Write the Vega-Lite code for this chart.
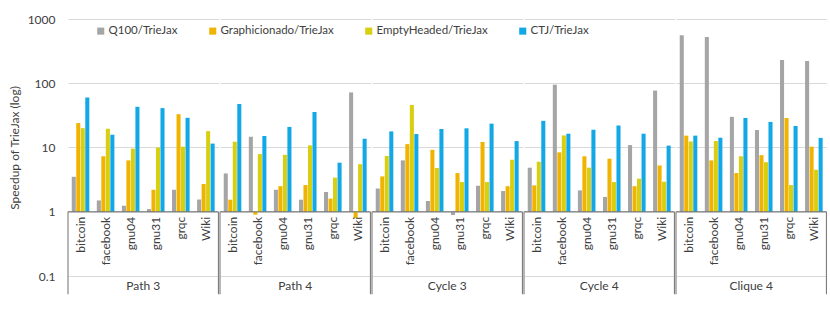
{
  "$schema": "https://vega.github.io/schema/vega-lite/v6.json",
  "background": "white",
  "padding": {"left": 8, "top": 13, "right": 6, "bottom": 5},
  "config": {
    "font": "Lato",
    "view": {"stroke": null},
    "legend": {"labelFont": "Lato"}
  },
  "data": {
    "values": [
      {"group": "Path 3", "dataset": "bitcoin", "series": "Q100/TrieJax", "value": 3.5},
      {"group": "Path 3", "dataset": "bitcoin", "series": "Graphicionado/TrieJax", "value": 24},
      {"group": "Path 3", "dataset": "bitcoin", "series": "EmptyHeaded/TrieJax", "value": 20},
      {"group": "Path 3", "dataset": "bitcoin", "series": "CTJ/TrieJax", "value": 60},
      {"group": "Path 3", "dataset": "facebook", "series": "Q100/TrieJax", "value": 1.5},
      {"group": "Path 3", "dataset": "facebook", "series": "Graphicionado/TrieJax", "value": 7.3},
      {"group": "Path 3", "dataset": "facebook", "series": "EmptyHeaded/TrieJax", "value": 19.6},
      {"group": "Path 3", "dataset": "facebook", "series": "CTJ/TrieJax", "value": 15.8},
      {"group": "Path 3", "dataset": "gnu04", "series": "Q100/TrieJax", "value": 1.24},
      {"group": "Path 3", "dataset": "gnu04", "series": "Graphicionado/TrieJax", "value": 6.3},
      {"group": "Path 3", "dataset": "gnu04", "series": "EmptyHeaded/TrieJax", "value": 9.6},
      {"group": "Path 3", "dataset": "gnu04", "series": "CTJ/TrieJax", "value": 43},
      {"group": "Path 3", "dataset": "gnu31", "series": "Q100/TrieJax", "value": 1.1},
      {"group": "Path 3", "dataset": "gnu31", "series": "Graphicionado/TrieJax", "value": 2.2},
      {"group": "Path 3", "dataset": "gnu31", "series": "EmptyHeaded/TrieJax", "value": 10},
      {"group": "Path 3", "dataset": "gnu31", "series": "CTJ/TrieJax", "value": 41},
      {"group": "Path 3", "dataset": "grqc", "series": "Q100/TrieJax", "value": 2.2},
      {"group": "Path 3", "dataset": "grqc", "series": "Graphicionado/TrieJax", "value": 33},
      {"group": "Path 3", "dataset": "grqc", "series": "EmptyHeaded/TrieJax", "value": 10.3},
      {"group": "Path 3", "dataset": "grqc", "series": "CTJ/TrieJax", "value": 29},
      {"group": "Path 3", "dataset": "Wiki", "series": "Q100/TrieJax", "value": 1.55},
      {"group": "Path 3", "dataset": "Wiki", "series": "Graphicionado/TrieJax", "value": 2.7},
      {"group": "Path 3", "dataset": "Wiki", "series": "EmptyHeaded/TrieJax", "value": 18},
      {"group": "Path 3", "dataset": "Wiki", "series": "CTJ/TrieJax", "value": 11.5},

      {"group": "Path 4", "dataset": "bitcoin", "series": "Q100/TrieJax", "value": 3.95},
      {"group": "Path 4", "dataset": "bitcoin", "series": "Graphicionado/TrieJax", "value": 1.54},
      {"group": "Path 4", "dataset": "bitcoin", "series": "EmptyHeaded/TrieJax", "value": 12.3},
      {"group": "Path 4", "dataset": "bitcoin", "series": "CTJ/TrieJax", "value": 47.6},
      {"group": "Path 4", "dataset": "facebook", "series": "Q100/TrieJax", "value": 14.7},
      {"group": "Path 4", "dataset": "facebook", "series": "Graphicionado/TrieJax", "value": 0.9},
      {"group": "Path 4", "dataset": "facebook", "series": "EmptyHeaded/TrieJax", "value": 7.9},
      {"group": "Path 4", "dataset": "facebook", "series": "CTJ/TrieJax", "value": 15.1},
      {"group": "Path 4", "dataset": "gnu04", "series": "Q100/TrieJax", "value": 2.2},
      {"group": "Path 4", "dataset": "gnu04", "series": "Graphicionado/TrieJax", "value": 2.5},
      {"group": "Path 4", "dataset": "gnu04", "series": "EmptyHeaded/TrieJax", "value": 7.7},
      {"group": "Path 4", "dataset": "gnu04", "series": "CTJ/TrieJax", "value": 20.9},
      {"group": "Path 4", "dataset": "gnu31", "series": "Q100/TrieJax", "value": 1.54},
      {"group": "Path 4", "dataset": "gnu31", "series": "Graphicionado/TrieJax", "value": 2.6},
      {"group": "Path 4", "dataset": "gnu31", "series": "EmptyHeaded/TrieJax", "value": 10.8},
      {"group": "Path 4", "dataset": "gnu31", "series": "CTJ/TrieJax", "value": 35.7},
      {"group": "Path 4", "dataset": "grqc", "series": "Q100/TrieJax", "value": 2.03},
      {"group": "Path 4", "dataset": "grqc", "series": "Graphicionado/TrieJax", "value": 1.6},
      {"group": "Path 4", "dataset": "grqc", "series": "EmptyHeaded/TrieJax", "value": 3.4},
      {"group": "Path 4", "dataset": "grqc", "series": "CTJ/TrieJax", "value": 5.8},
      {"group": "Path 4", "dataset": "Wiki", "series": "Q100/TrieJax", "value": 72},
      {"group": "Path 4", "dataset": "Wiki", "series": "Graphicionado/TrieJax", "value": 0.8},
      {"group": "Path 4", "dataset": "Wiki", "series": "EmptyHeaded/TrieJax", "value": 5.5},
      {"group": "Path 4", "dataset": "Wiki", "series": "CTJ/TrieJax", "value": 13.7},

      {"group": "Cycle 3", "dataset": "bitcoin", "series": "Q100/TrieJax", "value": 2.3},
      {"group": "Cycle 3", "dataset": "bitcoin", "series": "Graphicionado/TrieJax", "value": 3.55},
      {"group": "Cycle 3", "dataset": "bitcoin", "series": "EmptyHeaded/TrieJax", "value": 7.4},
      {"group": "Cycle 3", "dataset": "bitcoin", "series": "CTJ/TrieJax", "value": 17.8},
      {"group": "Cycle 3", "dataset": "facebook", "series": "Q100/TrieJax", "value": 6.3},
      {"group": "Cycle 3", "dataset": "facebook", "series": "Graphicionado/TrieJax", "value": 11.3},
      {"group": "Cycle 3", "dataset": "facebook", "series": "EmptyHeaded/TrieJax", "value": 46},
      {"group": "Cycle 3", "dataset": "facebook", "series": "CTJ/TrieJax", "value": 16.2},
      {"group": "Cycle 3", "dataset": "gnu04", "series": "Q100/TrieJax", "value": 1.47},
      {"group": "Cycle 3", "dataset": "gnu04", "series": "Graphicionado/TrieJax", "value": 9.2},
      {"group": "Cycle 3", "dataset": "gnu04", "series": "EmptyHeaded/TrieJax", "value": 4.8},
      {"group": "Cycle 3", "dataset": "gnu04", "series": "CTJ/TrieJax", "value": 19.4},
      {"group": "Cycle 3", "dataset": "gnu31", "series": "Q100/TrieJax", "value": 0.89},
      {"group": "Cycle 3", "dataset": "gnu31", "series": "Graphicionado/TrieJax", "value": 4.0},
      {"group": "Cycle 3", "dataset": "gnu31", "series": "EmptyHeaded/TrieJax", "value": 2.9},
      {"group": "Cycle 3", "dataset": "gnu31", "series": "CTJ/TrieJax", "value": 19.9},
      {"group": "Cycle 3", "dataset": "grqc", "series": "Q100/TrieJax", "value": 2.54},
      {"group": "Cycle 3", "dataset": "grqc", "series": "Graphicionado/TrieJax", "value": 12.2},
      {"group": "Cycle 3", "dataset": "grqc", "series": "EmptyHeaded/TrieJax", "value": 2.9},
      {"group": "Cycle 3", "dataset": "grqc", "series": "CTJ/TrieJax", "value": 23.5},
      {"group": "Cycle 3", "dataset": "Wiki", "series": "Q100/TrieJax", "value": 2.1},
      {"group": "Cycle 3", "dataset": "Wiki", "series": "Graphicionado/TrieJax", "value": 2.5},
      {"group": "Cycle 3", "dataset": "Wiki", "series": "EmptyHeaded/TrieJax", "value": 6.45},
      {"group": "Cycle 3", "dataset": "Wiki", "series": "CTJ/TrieJax", "value": 12.6},

      {"group": "Cycle 4", "dataset": "bitcoin", "series": "Q100/TrieJax", "value": 4.85},
      {"group": "Cycle 4", "dataset": "bitcoin", "series": "Graphicionado/TrieJax", "value": 2.57},
      {"group": "Cycle 4", "dataset": "bitcoin", "series": "EmptyHeaded/TrieJax", "value": 6.0},
      {"group": "Cycle 4", "dataset": "bitcoin", "series": "CTJ/TrieJax", "value": 26},
      {"group": "Cycle 4", "dataset": "facebook", "series": "Q100/TrieJax", "value": 95},
      {"group": "Cycle 4", "dataset": "facebook", "series": "Graphicionado/TrieJax", "value": 8.4},
      {"group": "Cycle 4", "dataset": "facebook", "series": "EmptyHeaded/TrieJax", "value": 15.4},
      {"group": "Cycle 4", "dataset": "facebook", "series": "CTJ/TrieJax", "value": 16.4},
      {"group": "Cycle 4", "dataset": "gnu04", "series": "Q100/TrieJax", "value": 2.15},
      {"group": "Cycle 4", "dataset": "gnu04", "series": "Graphicionado/TrieJax", "value": 7.3},
      {"group": "Cycle 4", "dataset": "gnu04", "series": "EmptyHeaded/TrieJax", "value": 4.85},
      {"group": "Cycle 4", "dataset": "gnu04", "series": "CTJ/TrieJax", "value": 18.9},
      {"group": "Cycle 4", "dataset": "gnu31", "series": "Q100/TrieJax", "value": 1.7},
      {"group": "Cycle 4", "dataset": "gnu31", "series": "Graphicionado/TrieJax", "value": 6.7},
      {"group": "Cycle 4", "dataset": "gnu31", "series": "EmptyHeaded/TrieJax", "value": 2.9},
      {"group": "Cycle 4", "dataset": "gnu31", "series": "CTJ/TrieJax", "value": 22},
      {"group": "Cycle 4", "dataset": "grqc", "series": "Q100/TrieJax", "value": 10.9},
      {"group": "Cycle 4", "dataset": "grqc", "series": "Graphicionado/TrieJax", "value": 2.5},
      {"group": "Cycle 4", "dataset": "grqc", "series": "EmptyHeaded/TrieJax", "value": 3.27},
      {"group": "Cycle 4", "dataset": "grqc", "series": "CTJ/TrieJax", "value": 16.4},
      {"group": "Cycle 4", "dataset": "Wiki", "series": "Q100/TrieJax", "value": 77},
      {"group": "Cycle 4", "dataset": "Wiki", "series": "Graphicionado/TrieJax", "value": 5.25},
      {"group": "Cycle 4", "dataset": "Wiki", "series": "EmptyHeaded/TrieJax", "value": 2.93},
      {"group": "Cycle 4", "dataset": "Wiki", "series": "CTJ/TrieJax", "value": 10.7},

      {"group": "Clique 4", "dataset": "bitcoin", "series": "Q100/TrieJax", "value": 557},
      {"group": "Clique 4", "dataset": "bitcoin", "series": "Graphicionado/TrieJax", "value": 15.3},
      {"group": "Clique 4", "dataset": "bitcoin", "series": "EmptyHeaded/TrieJax", "value": 12.4},
      {"group": "Clique 4", "dataset": "bitcoin", "series": "CTJ/TrieJax", "value": 15.3},
      {"group": "Clique 4", "dataset": "facebook", "series": "Q100/TrieJax", "value": 525},
      {"group": "Clique 4", "dataset": "facebook", "series": "Graphicionado/TrieJax", "value": 6.3},
      {"group": "Clique 4", "dataset": "facebook", "series": "EmptyHeaded/TrieJax", "value": 12.6},
      {"group": "Clique 4", "dataset": "facebook", "series": "CTJ/TrieJax", "value": 14.2},
      {"group": "Clique 4", "dataset": "gnu04", "series": "Q100/TrieJax", "value": 30},
      {"group": "Clique 4", "dataset": "gnu04", "series": "Graphicionado/TrieJax", "value": 4.0},
      {"group": "Clique 4", "dataset": "gnu04", "series": "EmptyHeaded/TrieJax", "value": 7.3},
      {"group": "Clique 4", "dataset": "gnu04", "series": "CTJ/TrieJax", "value": 28.8},
      {"group": "Clique 4", "dataset": "gnu31", "series": "Q100/TrieJax", "value": 18.7},
      {"group": "Clique 4", "dataset": "gnu31", "series": "Graphicionado/TrieJax", "value": 7.6},
      {"group": "Clique 4", "dataset": "gnu31", "series": "EmptyHeaded/TrieJax", "value": 5.9},
      {"group": "Clique 4", "dataset": "gnu31", "series": "CTJ/TrieJax", "value": 25},
      {"group": "Clique 4", "dataset": "grqc", "series": "Q100/TrieJax", "value": 231},
      {"group": "Clique 4", "dataset": "grqc", "series": "Graphicionado/TrieJax", "value": 28.8},
      {"group": "Clique 4", "dataset": "grqc", "series": "EmptyHeaded/TrieJax", "value": 2.6},
      {"group": "Clique 4", "dataset": "grqc", "series": "CTJ/TrieJax", "value": 21.6},
      {"group": "Clique 4", "dataset": "Wiki", "series": "Q100/TrieJax", "value": 222},
      {"group": "Clique 4", "dataset": "Wiki", "series": "Graphicionado/TrieJax", "value": 10.3},
      {"group": "Clique 4", "dataset": "Wiki", "series": "EmptyHeaded/TrieJax", "value": 4.5},
      {"group": "Clique 4", "dataset": "Wiki", "series": "CTJ/TrieJax", "value": 14.1}
    ]
  },
  "facet": {
    "column": {
      "field": "group",
      "type": "nominal",
      "sort": ["Path 3", "Path 4", "Cycle 3", "Cycle 4", "Clique 4"],
      "title": null,
      "header": {
        "labelOrient": "bottom",
        "labelFont": "Lato",
        "labelFontSize": 12,
        "labelColor": "#404040",
        "labelPadding": -14
      }
    }
  },
  "spacing": 0,
  "spec": {
    "width": 150.4,
    "height": 257,
    "layer": [
      {
        "mark": {"type": "bar"},
        "encoding": {
          "x": {
            "field": "dataset",
            "type": "nominal",
            "sort": ["bitcoin", "facebook", "gnu04", "gnu31", "grqc", "Wiki"],
            "axis": null,
            "scale": {"paddingInner": 0, "paddingOuter": 0}
          },
          "xOffset": {
            "field": "series",
            "type": "nominal",
            "sort": ["Q100/TrieJax", "Graphicionado/TrieJax", "EmptyHeaded/TrieJax", "CTJ/TrieJax"],
            "scale": {"paddingInner": 0.1, "paddingOuter": 0.83}
          },
          "y": {
            "field": "value",
            "type": "quantitative",
            "scale": {"type": "log", "domain": [0.1, 1000]},
            "axis": {
              "title": "Speedup of TrieJax (log)",
              "titleFont": "Lato",
              "titleFontSize": 12,
              "titleFontWeight": "normal",
              "titleColor": "#404040",
              "titlePadding": 6,
              "values": [0.1, 1, 10, 100, 1000],
              "format": "~g",
              "labelFont": "Lato",
              "labelFontSize": 12,
              "labelColor": "#404040",
              "labelPadding": 12,
              "ticks": false,
              "domain": false,
              "grid": true,
              "gridColor": "#d9d9d9"
            }
          },
          "y2": {"datum": 1},
          "color": {
            "field": "series",
            "type": "nominal",
            "sort": ["Q100/TrieJax", "Graphicionado/TrieJax", "EmptyHeaded/TrieJax", "CTJ/TrieJax"],
            "scale": {
              "domain": ["Q100/TrieJax", "Graphicionado/TrieJax", "EmptyHeaded/TrieJax", "CTJ/TrieJax"],
              "range": ["#a5a5a5", "#f0b400", "#d8cf10", "#12a8e6"]
            },
            "legend": {
              "orient": "none",
              "legendX": 27,
              "legendY": 6,
              "direction": "horizontal",
              "title": null,
              "symbolType": "square",
              "symbolSize": 50,
              "symbolStrokeWidth": 0,
              "labelFontSize": 11.5,
              "labelColor": "#404040",
              "labelOffset": 2,
              "columnPadding": 29
            }
          }
        }
      },
      {
        "transform": [{"filter": "datum.series == 'Q100/TrieJax' && datum.dataset == 'bitcoin'"}],
        "mark": {"type": "rule", "color": "#6e6e6e", "strokeWidth": 1},
        "encoding": {"y": {"datum": 1}}
      },
      {
        "transform": [{"filter": "datum.series == 'Q100/TrieJax' && datum.dataset == 'bitcoin'"}],
        "mark": {"type": "rule", "color": "#6e6e6e", "strokeWidth": 1},
        "encoding": {
          "x": {"field": "dataset", "type": "nominal", "sort": ["bitcoin", "facebook", "gnu04", "gnu31", "grqc", "Wiki"], "bandPosition": 0},
          "y": {"datum": 1},
          "y2": {"datum": 0.052}
        }
      },
      {
        "transform": [{"filter": "datum.series == 'Q100/TrieJax' && datum.dataset == 'Wiki'"}],
        "mark": {"type": "rule", "color": "#6e6e6e", "strokeWidth": 1},
        "encoding": {
          "x": {"field": "dataset", "type": "nominal", "sort": ["bitcoin", "facebook", "gnu04", "gnu31", "grqc", "Wiki"], "bandPosition": 1},
          "y": {"datum": 1},
          "y2": {"datum": 0.052}
        }
      },
      {
        "transform": [{"filter": "datum.series == 'Q100/TrieJax'"}],
        "mark": {"type": "text", "angle": 270, "align": "right", "baseline": "middle", "font": "Lato", "fontSize": 12, "color": "#404040"},
        "encoding": {
          "x": {"field": "dataset", "type": "nominal", "sort": ["bitcoin", "facebook", "gnu04", "gnu31", "grqc", "Wiki"]},
          "y": {"datum": 0.835},
          "text": {"field": "dataset"}
        }
      }
    ]
  }
}
